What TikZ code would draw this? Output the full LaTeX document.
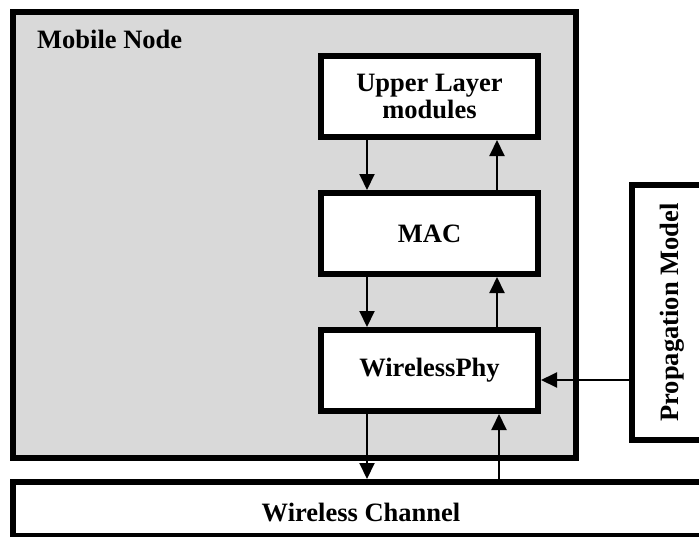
\documentclass[tikz,border=0pt]{standalone}
\usepackage{fontspec}
\setmainfont{Liberation Serif}
\usepackage{tikz}
\usetikzlibrary{arrows.meta,positioning,calc}
\definecolor{nodegris}{HTML}{D9D9D9}
\tikzset{
  bloc/.style={rectangle, draw=black, line width=6pt, fill=#1, align=center,
               font=\fontsize{26.5}{27}\selectfont\bfseries},
  bloc/.default=white,
  arr/.style={-{Triangle[length=16pt,width=15pt]}, line width=2pt, draw=black},
}

\begin{document}
\begin{tikzpicture}[x=1pt, y=-1pt, node distance=50pt]
        \useasboundingbox (0,0) rectangle (699,536);
        \node[bloc=nodegris, minimum width=563pt, minimum height=446.5pt] (mobile) at (294.5,234.75) {};
        \node[anchor=base west, inner sep=0pt, font=\fontsize{26.5}{27}\selectfont\bfseries] (mtitle) at (37,48) {Mobile Node};
        \node[bloc, minimum width=217pt, minimum height=81pt] (upper) at (429.5,96.5) {Upper Layer\\modules};
        \node[bloc, minimum width=217pt, minimum height=81pt, below=of upper] (mac) {MAC};
        \node[bloc, minimum width=217pt, minimum height=81pt, below=of mac] (phy) {WirelessPhy};
        \node[bloc, minimum width=80pt, minimum height=255pt] (prop) at (672,312.5) {};
        \node[rotate=90, font=\fontsize{26.5}{27}\selectfont\bfseries] (ptext) at (prop.center) {Propagation Model};
        \node[bloc, minimum width=696pt, minimum height=54pt] (chan) at (361,509) {};
        \node[font=\fontsize{26.5}{27}\selectfont\bfseries] (ctext) at (361,512) {Wireless Channel};
        \draw[arr] ([xshift=49pt]upper.south west) -- ([xshift=49pt]mac.north west);
        \draw[arr] ([xshift=-44pt]mac.north east) -- ([xshift=-44pt]upper.south east);
        \draw[arr] ([xshift=49pt]mac.south west) -- ([xshift=49pt]phy.north west);
        \draw[arr] ([xshift=-44pt]phy.north east) -- ([xshift=-44pt]mac.south east);
        \coordinate (pdown) at ([xshift=49pt]phy.south west);
        \coordinate (pup) at ([xshift=-42pt]phy.south east);
        \coordinate (psig) at ([yshift=-9.5pt]phy.east);
        \draw[arr] (pdown) -- (pdown |- chan.north);
        \draw[arr] (pup |- chan.north) -- (pup);
        \draw[arr] (psig -| prop.west) -- (psig);
      \end{tikzpicture}
\end{document}
